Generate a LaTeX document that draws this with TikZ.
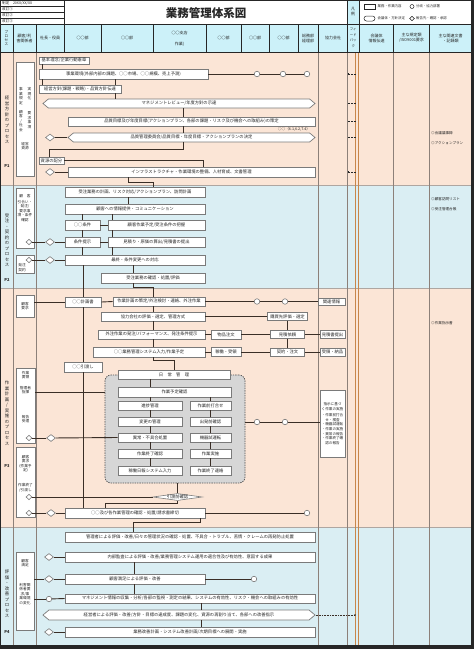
\documentclass[tikz,border=0pt]{standalone}
\usepackage{fontspec}
\setmainfont{Noto Sans CJK JP}
\usepackage{xcolor,tikz}
\usetikzlibrary{arrows.meta,positioning,shapes.geometric,shapes.symbols}
\definecolor{ink}{HTML}{262626}
\definecolor{peach}{HTML}{FBE5D6}
\definecolor{aqua}{HTML}{DAEEF3}
\definecolor{head}{HTML}{CCF1F9}
\definecolor{boxc}{HTML}{7A7A7A}
\definecolor{linkc}{HTML}{3A2E26}
\definecolor{rulec}{HTML}{8C8079}
\definecolor{fbc}{HTML}{C8864A}
\definecolor{haze}{HTML}{D6D6D6}

\begin{document}
\begin{tikzpicture}[x=1pt,y=-1pt,
  box/.style={draw=boxc,fill=white,line width=.7pt,inner sep=0pt,text=ink,font=\fontsize{4.3}{5}\selectfont},
  meet/.style={box,signal,signal to=west and east,signal pointer angle=80},
  hub/.style={circle,draw=boxc,fill=white,line width=.6pt,minimum size=5.5pt,inner sep=0pt},
  gate/.style={diamond,draw=boxc,fill=white,line width=.6pt,minimum width=9pt,minimum height=7pt,inner sep=0pt,text=ink,font=\fontsize{4.3}{5}\selectfont},
  link/.style={draw=linkc,line width=.9pt},
  hd/.style={text=ink,align=center,inner sep=0pt,font=\fontsize{4}{5}\selectfont},
  vt/.style={text=ink,align=center,inner sep=0pt,font=\fontsize{4.4}{5.5}\selectfont},
  cx/.style={text=ink,align=center,inner sep=0pt,font=\fontsize{3.7}{4.5}\selectfont},
  doc/.style={text=ink,anchor=west,inner sep=0pt,font=\fontsize{3.6}{4.5}\selectfont}]
\useasboundingbox (0,0) rectangle (474,649);
\fill[white] (0,0) rectangle (474,649);
% bands
\fill[peach] (0,52) rectangle (471,185);
\fill[aqua] (0,185) rectangle (471,288);
\fill[peach] (0,288) rectangle (471,527);
\fill[aqua] (0,527) rectangle (471,645);
\fill[head] (0,24) rectangle (471,52);
\fill[head] (347,0) rectangle (359,24);
\draw[rulec!70,line width=.5pt] (0,185)--(471,185) (0,288)--(471,288) (0,527)--(471,527);
% columns
\foreach \x in {13,36,64,101,153,206,241,269,298,318,347.5,359,393.5,429.5}
  \draw[ink,line width=.5pt] (\x,24)--(\x,52);
\foreach \x in {13,36,318,347.5,393.5,429.5}
  \draw[rulec,line width=.6pt] (\x,52)--(\x,645);
\draw[fbc,line width=.8pt] (355.8,52)--(355.8,645) (358,52)--(358,645);
\draw[ink,line width=.6pt] (0,24)--(471,24) (0,52)--(471,52) (64,0)--(64,24) (347.5,0)--(347.5,24) (359,0)--(359,24);
\draw[ink,line width=.5pt] (0,6)--(64,6) (0,12)--(64,12) (0,18)--(64,18);

% header
\node[doc] (rev0) at (2,3) {制定　20XX/XX/XX};
\node[doc] (rev1) at (2,9) {改訂①};
\node[doc] (rev2) at (2,15) {改訂②};
\node[doc] (rev3) at (2,21) {改訂③};
\node[text=ink,inner sep=0pt,font=\fontsize{11.5}{12}\selectfont\bfseries] (title) at (206,13) {業務管理体系図};
\node[hd] (hanrei) at (353.2,12) {凡\\例};
\node[draw=ink,line width=.5pt,minimum width=11pt,minimum height=5pt,inner sep=0pt] (lg1) at (369.5,6.5) {};
\node[doc,font=\fontsize{3.4}{4}\selectfont] (lt1) at (377.5,6.5) {業務・作業内容};
\node[circle,draw=ink,line width=.5pt,minimum size=4pt,inner sep=0pt] (lg2) at (412,6.5) {};
\node[doc,font=\fontsize{3.4}{4}\selectfont] (lt2) at (416,6.5) {分岐・協力部署};
\node[draw=ink,line width=.5pt,rounded corners=2.5pt,minimum width=11pt,minimum height=5pt,inner sep=0pt] (lg3) at (369.5,18.5) {};
\node[doc,font=\fontsize{3.4}{4}\selectfont] (lt3) at (377.5,18.5) {会議体・方針決定};
\node[diamond,draw=ink,line width=.5pt,minimum width=5pt,minimum height=4.5pt,inner sep=0pt] (lg4) at (412,18.5) {};
\node[doc,font=\fontsize{3.4}{4}\selectfont] (lt4) at (416,18.5) {報告先・確認・承認};

\node[hd,font=\fontsize{3.6}{4.3}\selectfont] (h1) at (6.5,38) {プ\\ロ\\セ\\ス};
\node[hd] (h2) at (24.5,38) {顧客/利\\害関係者};
\node[hd] (h3) at (50,38) {社長・役員};
\node[hd] (h4) at (82.5,38) {○○部};
\node[hd] (h5) at (127,38) {○○部};
\node[hd] (h6a) at (179.5,33) {○○支店};
\node[hd] (h6b) at (179.5,44) {作業)};
\node[hd] (h7) at (223.5,38) {○○部};
\node[hd] (h8) at (255,38) {○○部};
\node[hd] (h9) at (283.5,38) {○○部};
\node[hd] (h10) at (308,38) {総務部\\経理部};
\node[hd] (h11) at (333,38) {協力会社};
\node[hd,font=\fontsize{3.4}{5.5}\selectfont] (h12) at (353.2,38) {フィ\\ード\\バッ\\ク};
\node[hd] (h13) at (376.5,38) {会議体\\情報伝達};
\node[hd] (h14) at (411.5,38) {主な規定類\\/ISO9001要求};
\node[hd] (h15) at (450.5,38) {主な関連文書\\・記録類};

% process column
\node[vt] (p1) at (7,120) {経\\営\\方\\針\\の\\プ\\ロ\\セ\\ス};
\node[vt,font=\fontsize{4}{5}\selectfont\bfseries] (p1n) at (7,166) {P1};
\node[vt] (p2) at (7,240) {受\\注\\・\\契\\約\\の\\プ\\ロ\\セ\\ス};
\node[vt,font=\fontsize{4}{5}\selectfont\bfseries] (p2n) at (7,280) {P2};
\node[vt] (p3) at (7,413) {作\\業\\計\\画\\/\\実\\施\\の\\プ\\ロ\\セ\\ス};
\node[vt,font=\fontsize{4}{5}\selectfont\bfseries] (p3n) at (7,466) {P3};
\node[vt] (p4) at (7,594) {評\\価\\・\\改\\善\\プ\\ロ\\セ\\ス};
\node[vt,font=\fontsize{4}{5}\selectfont\bfseries] (p4n) at (7,632) {P4};

% customer column
\node[box,minimum width=18pt,minimum height=114pt] (c1) at (25,119) {};
\node[cx] (t1a) at (29.5,94) {実\\現\\化};
\node[cx] (t1b) at (21,96) {事\\業\\規\\定};
\node[cx] (t1c) at (29.5,120) {要\\求\\事\\項};
\node[cx] (t1d) at (21,121) {顧\\客\\/\\社\\会};
\node[cx] (t1e) at (25,146) {経営\\資源};
\node[box,minimum width=18pt,minimum height=60pt] (c2) at (25,218) {};
\node[cx] (t2) at (25,208) {顧　客\\[1pt]引合い・\\発注/\\要求事\\項・条件\\確認};
\node[box,minimum width=18pt,minimum height=18pt] (c3) at (25,264) {};
\node[cx] (t3) at (22,267.5) {発注\\契約};
\node[box,minimum width=18pt,minimum height=22pt] (c4) at (25,306) {};
\node[cx] (t4) at (25,306) {顧客\\要求};
\node[box,minimum width=19pt,minimum height=75pt] (c5) at (25.5,405.5) {};
\node[cx] (t5a) at (25.5,375) {作業\\要領};
\node[cx] (t5b) at (25.5,390) {管理者\\指揮};
\node[cx] (t5c) at (25.5,419) {報告\\受理};
\node[box,minimum width=19pt,minimum height=70pt] (c6) at (25.5,482) {};
\node[cx] (t6a) at (25.5,464) {顧客\\要求\\(作業予\\定)};
\node[cx] (t6b) at (25.5,488) {作業終了\\/引渡し};
\node[box,minimum width=18pt,minimum height=78pt] (c7) at (25,591) {};
\node[cx] (t7a) at (25,563) {顧客\\満足};
\node[cx] (t7b) at (25,594) {利害関\\係者要\\求/事\\業環境\\の変化};

% P1
\node[box,minimum width=50pt,minimum height=7pt] (b1) at (64,60.5) {基本理念/企業行動憲章};
\node[box,minimum width=169pt,minimum height=10pt] (b2) at (123.5,74) {事業環境(外部内部の課題、○○市場、○○規模、売上予測)};
\node[hub] (o2a) at (257,74) {};
\node[hub] (o2b) at (283,74) {};
\node[hub] (o2c) at (307,74) {};
\node[box,minimum width=82pt,minimum height=8pt] (b3) at (80,89) {経営方針(課題・戦略)・品質方針伝達};
\node[meet,minimum width=272pt,minimum height=9pt] (a4) at (179,103.5) {マネジメントレビュー/年度方針の示達};
\node[box,minimum width=247pt,minimum height=9pt] (b5) at (191.5,121.5) {品質目標及び年度目標(アクションプラン、各部の課題・リスク及び機会への取組み)の策定};
\node[cx] (cl5) at (294,129.5) {○○（6.1,6.2,7.4）};
\node[meet,minimum width=247pt,minimum height=9pt] (a6) at (191.5,137.5) {品質管理委員会/品質目標・年度目標・アクションプランの決定};
\node[gate] (d6) at (50,137.5) {};
\node[box,minimum width=25pt,minimum height=7pt] (b7) at (51.5,160.5) {資源の配分};
\node[box,minimum width=247pt,minimum height=10pt] (b8) at (191.5,172) {インフラストラクチャ・作業環境の整備、人材育成、文書管理};
\node[gate] (d8) at (50,172) {};

% P2
\node[box,minimum width=140pt,minimum height=10pt] (b9) at (135,192) {受注業務の計画、リスク対応/アクションプラン、訪問計画};
\node[box,minimum width=140pt,minimum height=10pt] (b10) at (135,209) {顧客への情報提供・コミュニケーション};
\node[box,minimum width=35pt,minimum height=10pt] (b11) at (82.5,225) {○○条件};
\node[box,minimum width=97pt,minimum height=10pt] (b12) at (156.5,225) {顧客作業予定/受注条件の把握};
\node[box,minimum width=35pt,minimum height=10pt] (b13) at (82.5,242) {条件提示};
\node[box,minimum width=97pt,minimum height=10pt] (b14) at (156.5,242) {見積り・原価の算出/見積書の提出};
\node[box,minimum width=140pt,minimum height=10pt] (b15) at (135,260) {最終・条件変更への対応};
\node[box,minimum width=104pt,minimum height=10pt] (b16) at (153,278) {受注業務の確認・処置/評価};
\node[gate,minimum width=6pt,minimum height=5.5pt] (dc2) at (29,242) {};
\node[gate] (d2) at (50,242) {};
\node[gate,minimum width=6pt,minimum height=5.5pt] (dc3) at (29,260) {};
\node[gate] (d3) at (50,260) {};

% P3
\node[box,minimum width=36pt,minimum height=10pt] (b17) at (83,302) {○○計画書};
\node[box,minimum width=92pt,minimum height=9pt] (b18) at (159,301.5) {作業計画の策定/外注検討・連絡、外注作業};
\node[hub] (o18a) at (257,301.5) {};
\node[hub] (o18b) at (285,301.5) {};
\node[box,minimum width=27pt,minimum height=7pt] (r18) at (331.5,301.5) {関連情報};
\node[box,minimum width=104pt,minimum height=9pt] (b19) at (153,316.5) {協力会社の評価・選定、管理方式};
\node[box,minimum width=40pt,minimum height=8pt] (r19) at (287.5,316.5) {購買先評価・選定};
\node[box,minimum width=107pt,minimum height=9pt] (b20) at (151.5,334.5) {外注作業の発注/パフォーマンス、発注条件提示};
\node[box,minimum width=30pt,minimum height=9pt] (r20a) at (226,334.5) {物品注文};
\node[box,minimum width=34pt,minimum height=8pt] (r20b) at (287.5,334.5) {見積依頼};
\node[box,minimum width=25pt,minimum height=8pt] (r20c) at (332.5,334.5) {見積書提出};
\node[box,minimum width=112pt,minimum height=10pt] (b21) at (149,352) {○○業務管理システム入力/作業予定};
\node[box,minimum width=30pt,minimum height=9pt] (r21a) at (226,352) {稼働・受領};
\node[box,minimum width=34pt,minimum height=8pt] (r21b) at (287.5,352) {契約・注文};
\node[box,minimum width=25pt,minimum height=8pt] (r21c) at (332.5,352) {受領・納品};
\node[box,minimum width=38pt,minimum height=10pt] (b22) at (83,367) {○○引渡し};

\node[draw=ink!80,fill=haze,line width=.7pt,dash pattern=on 1.4pt off 1pt,rounded corners=6pt,minimum width=140pt,minimum height=108pt] (g) at (175,429) {};
\node[box,minimum width=112pt,minimum height=9pt] (dm) at (174,374.5) {日　常　管　理};
\node[box,minimum width=113pt,minimum height=10pt] (k1) at (174.5,392) {作業予定確認};
\node[box,minimum width=64pt,minimum height=9pt] (l1) at (150,405.5) {進捗管理};
\node[box,minimum width=64pt,minimum height=9pt] (l2) at (150,421.5) {変更の管理};
\node[box,minimum width=64pt,minimum height=9pt] (l3) at (150,437.5) {異常・不具合処置};
\node[box,minimum width=64pt,minimum height=9pt] (l4) at (150,453.5) {作業終了確認};
\node[box,minimum width=64pt,minimum height=9pt] (l5) at (150,470.5) {稼働日報システム入力};
\node[box,minimum width=41pt,minimum height=9pt] (r1) at (210.5,405.5) {作業前打合せ};
\node[box,minimum width=41pt,minimum height=9pt] (r2) at (210.5,421.5) {出発前確認};
\node[box,minimum width=41pt,minimum height=9pt] (r3) at (210.5,437.5) {機器試運転};
\node[box,minimum width=41pt,minimum height=9pt] (r4) at (210.5,453.5) {作業実施};
\node[box,minimum width=41pt,minimum height=9pt] (r5) at (210.5,470.5) {作業終了連絡};
\node[hub] (o22a) at (257,422) {};
\node[hub] (o22b) at (285,422) {};
\node[box,minimum width=25pt,minimum height=67pt,align=center,font=\fontsize{3.6}{4.6}\selectfont] (r22) at (332.5,423.5) {指示に基づ\\く作業の実施\\[2pt]・作業前打合\\せ・検査\\・機器試運転\\・作業の実施\\・異常の報告\\・作業終了確\\認の報告};
\node[gate,minimum width=6pt,minimum height=5.5pt] (dc5) at (29,438) {};
\node[gate] (d5) at (51,438) {};
\node[gate,shape aspect=7] (hk) at (177.5,497) {引渡前確認};
\node[gate,minimum width=6pt,minimum height=5.5pt] (dc6a) at (29,497) {};
\node[gate,minimum width=6pt,minimum height=5.5pt] (dc6b) at (29,513) {};
\node[gate] (d6b) at (51,513) {};
\node[box,minimum width=140pt,minimum height=10pt] (b33) at (135,513) {○○及び各作業管理の確認・処置/請求書締切};
\node[hub] (o33) at (307,513) {};

% P4
\node[box,minimum width=250pt,minimum height=10pt] (b35) at (190,537) {管理者による評価・改善/日々の管理状況の確認・処置、不具合・トラブル、苦情・クレームの再発防止処置};
\node[box,minimum width=250pt,minimum height=10pt] (b36) at (190,557) {内部監査による評価・改善/業務管理システム運用の適合性及び有効性、意図する成果};
\node[gate] (d36) at (49,557) {};
\node[box,minimum width=140pt,minimum height=10pt] (b37) at (135,579) {顧客満足による評価・改善};
\node[gate] (d37) at (49,579) {};
\node[hub] (o37) at (254,579) {};
\node[box,minimum width=250pt,minimum height=9pt] (b38) at (190,598.5) {マネジメント情報の収集・分析/各部の監視・測定の結果、システムの有効性、リスク・機会への取組みの有効性};
\node[hub] (o38) at (49,599) {};
\node[meet,minimum width=272pt,minimum height=10pt] (a39) at (179,615) {経営者による評価・改善/方針・目標の達成度、課題の変化、資源の再割り当て、各部への改善指示};
\node[box,minimum width=250pt,minimum height=10pt] (b40) at (190,632) {業務改善計画・システム改善計画/次期目標への展開・実施};
\node[gate] (d40) at (49,632) {};
\coordinate (fb39) at (355,615);

% documents
\node[doc] (dr1) at (431,133) {◎会議議事録};
\node[doc] (dr2) at (431,143) {◎アクションプラン};
\node[doc] (dr3) at (431,199) {◎顧客訪問リスト};
\node[doc] (dr4) at (431,209) {◎受注管理台帳};
\node[doc] (dr5) at (431,323) {◎作業指示書};

% connectors P1
\draw[link] ([xshift=-22pt]b1.south) -- ([xshift=-22pt]b1.south |- b2.north);
\draw[link] ([xshift=-22pt]b1.south |- b2.south) -- ([xshift=-22pt]b1.south |- b3.north);
\draw[link] (b2.east) -- (o2a);
\draw[link] (o2a) -- (o2b);
\draw[link] (o2b) -- (o2c);
\draw[link] ([xshift=35pt]b3.north |- b2.south) -- ([xshift=35pt]b3.north);
\draw[link] ([xshift=35pt]b3.south) -- ([xshift=35pt]b3.south |- a4.north);
\draw[link] ([xshift=4pt]a4.south) -- ([xshift=4pt]a4.south |- b5.north);
\draw[link] ([xshift=-8.5pt]b5.south) -- ([xshift=-8.5pt]b5.south |- a6.north);
\draw[link] (d6) -- (a6.west);
\draw[link] ([xshift=-8.5pt]a6.south) -- ++(0,7) -| ([xshift=-2.5pt]b7.north);
\draw[link] (b7.east) -| ([xshift=11.5pt]b8.north);
\draw[link] (d8) -- (b8.west);
\draw[link] ([xshift=-63.5pt]b8.south) -- ++(0,5) -| ([xshift=18pt]b9.north);
% connectors P2
\draw[link] ([xshift=-7pt]b9.south) -- ([xshift=-7pt]b10.north);
\draw[link] (b11.north |- b10.south) -- (b11.north);
\draw[link] ([xshift=-44.5pt]b12.north |- b10.south) -- ([xshift=-44.5pt]b12.north);
\draw[link] (b11.east) -- (b12.west);
\draw[link] (b11.south) -- (b13.north);
\draw[link] ([xshift=-44.5pt]b12.south) -- ([xshift=-44.5pt]b14.north);
\draw[link] (b13.east) -- (b14.west);
\draw[link] (b13.south) -- (b13.south |- b15.north);
\draw[link] ([xshift=-44.5pt]b14.south) -- ([xshift=-44.5pt]b14.south |- b15.north);
\draw[link] (dc2) -- (d2);
\draw[link] (d2) -- (b13.west);
\draw[link] (dc3) -- (d3);
\draw[link] (d3) -- (b15.west);
\draw[link] ([xshift=-2pt]b15.south) -- ([xshift=-2pt]b15.south |- b16.north);
\draw[link] ([xshift=-20pt]b16.south) -- ++(0,4) -| ([xshift=-6pt]b18.north);
% connectors P3
\draw[link] (b17.north |- b15.south) -- (b17.north);
\draw[link] (b17.south) -- (b17.south |- b22.north);
\draw[link] (b22.south) -- (b22.south |- b33.north);
\draw[link] (c4.east |- b17.west) -- (b17.west);
\draw[link] (b17.east) -- (b18.west);
\draw[link] (b18.east) -- (o18a);
\draw[link] (o18a) -- (o18b);
\draw[link] (o18b) -- (r18.west);
\draw[link] ([xshift=-6pt]b18.south) -- ([xshift=-6pt]b18.south |- b19.north);
\draw[link] (b19.east) -- (r19.west);
\draw[link] (b19.south) -- (b19.south |- b20.north);
\draw[link] (b20.east) -- (r20a.west);
\draw[link] (r20a.east) -- (r20b.west);
\draw[link] (r20b.east) -- (r20c.west);
\draw[link] ([xshift=1.5pt]b20.south) -- ([xshift=1.5pt]b20.south |- b21.north);
\draw[link] (b21.east) -- (r21a.west);
\draw[link] (r21a.east) -- (r21b.west);
\draw[link] (r21b.east) -- (r21c.west);
\draw[link] (r19.south) -- (r20b.north);
\draw[link] (r20b.south) -- (r21b.north);
\draw[link] ([xshift=4pt]b21.south) -- ++(0,3) -| (dm.north);
\draw[link] ([xshift=-24pt]dm.south) -- ([xshift=-24pt]dm.south |- k1.north);
\draw[link] (l1.north |- k1.south) -- (l1.north);
\draw[link] (r1.north |- k1.south) -- (r1.north);
\foreach \a/\b in {l1/l2,l2/l3,l3/l4,l4/l5,r1/r2,r2/r3,r3/r4,r4/r5}
  \draw[link] (\a.south) -- (\b.north);
\draw[link] (c5.east |- k1.west) -- (g.west |- k1.west);
\draw[link] (dc5) -- (d5);
\draw[link] (d5) -- (l3.west);
\draw[link] (g.east |- o22a) -- (o22a);
\draw[link] (o22a) -- (o22b);
\draw[link] (o22b) -- (r22.west |- o22b);
\draw[link] (hk.north |- g.south) -- (hk.north);
\draw[link] (dc6a) -- (hk.west);
\draw[link] (hk.south) -- ++(0,3) -| ([xshift=-30pt]b33.north);
\draw[link] (dc6b) -- (d6b);
\draw[link] (d6b) -- (b33.west);
\draw[link] (b33.east) -- (o33);
\draw[link] ([xshift=65pt]b33.south) -- ++(0,4) -| ([xshift=-57pt]b35.north);
% connectors P4
\draw[link] (d36) -- (b36.west);
\draw[link] ([xshift=-56pt]b36.south) -- ([xshift=-56pt]b36.south |- b37.north);
\draw[link] (c7.east |- d37) -- (d37);
\draw[link] (d37) -- (b37.west);
\draw[link] (b37.east) -- (o37);
\draw[link] ([xshift=-1pt]b37.south) -- ([xshift=-1pt]b37.south |- b38.north);
\draw[link] (c7.east |- o38) -- (o38);
\draw[link] (o38) -- (b38.west);
\draw[link] ([xshift=11pt]b38.south) -- ([xshift=11pt]b38.south |- a39.north);
\draw[link] ([xshift=11pt]b40.north |- a39.south) -- ([xshift=11pt]b40.north);
\draw[link] (d40) -- (b40.west);
\draw[linkc,densely dotted,line width=.6pt] (a39.east) -- (fb39);
\fill[ink] (fb39) circle (0.9);
% feedback ticks
\foreach \y in {74,103.5,121.5,137.5,172}{
  \fill[ink] (347.8,\y-0.6) rectangle (349.4,\y+0.6);
  \draw[ink,densely dotted,line width=.4pt] (349.4,\y) -- (355.5,\y);}
% frame
\draw[ink,line width=1pt] (0.5,0.5) rectangle (471,645);
\fill[ink] (471,0) rectangle (474,649) (0,645) rectangle (474,649);
\end{tikzpicture}
\end{document}
